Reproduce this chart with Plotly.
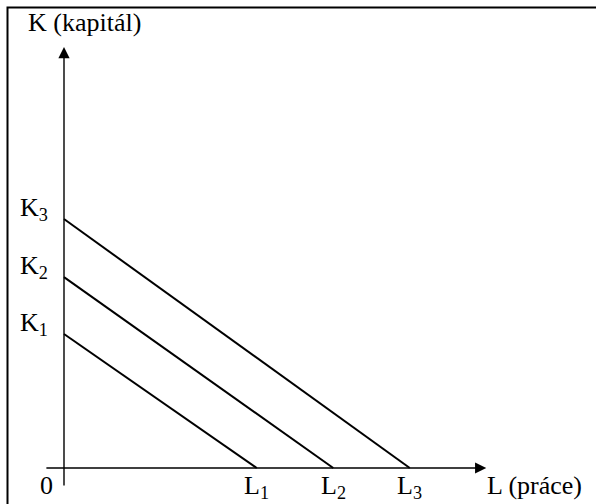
import plotly.graph_objects as go

# Data (economic units)
k_intercepts = [2.33, 3.32, 4.33]     # K1, K2, K3
l_intercepts = [2.52, 3.52, 4.52]     # L1, L2, L3
k_labels = ["K<sub>1</sub>", "K<sub>2</sub>", "K<sub>3</sub>"]
l_labels = ["L<sub>1</sub>", "L<sub>2</sub>", "L<sub>3</sub>"]
y_title = "K (kapitál)"
x_title = "L (práce)"

W, H = 596, 504
ox, oy = 64, 468          # origin pixel
ux, uy = 76.5, 57.5       # px per unit
xr = [-ox / ux, (W - ox) / ux]
yr = [-(H - oy) / uy, oy / uy]

FONT = dict(family="Liberation Serif", size=26, color="black")

fig = go.Figure()
for k, l in zip(k_intercepts, l_intercepts):
    fig.add_trace(go.Scatter(x=[0, l], y=[k, 0], mode="lines",
                             line=dict(color="black", width=2), showlegend=False,
                             hoverinfo="skip"))

ann = []
# axes with arrows
ann.append(dict(x=5.52, y=0, ax=-0.25, ay=0, xref="x", yref="y", axref="x", ayref="y",
                showarrow=True, arrowhead=2, arrowsize=1.6, arrowwidth=1.4, arrowcolor="black", text=""))
ann.append(dict(x=0, y=7.32, ax=0, ay=-0.33, xref="x", yref="y", axref="x", ayref="y",
                showarrow=True, arrowhead=2, arrowsize=1.6, arrowwidth=1.4, arrowcolor="black", text=""))

for k, lab in zip(k_intercepts, k_labels):
    ann.append(dict(x=-0.18, y=k + 0.17, xref="x", yref="y", text=lab, showarrow=False,
                    xanchor="right", yanchor="middle", font=FONT))
for l, lab in zip(l_intercepts, l_labels):
    ann.append(dict(x=l, y=-0.01, xref="x", yref="y", text=lab, showarrow=False,
                    xanchor="center", yanchor="top", font=FONT))
ann.append(dict(x=-0.23, y=-0.01, xref="x", yref="y", text="0", showarrow=False,
                xanchor="center", yanchor="top", font=FONT))
ann.append(dict(x=5.5, y=-0.01, xref="x", yref="y", text=x_title, showarrow=False,
                xanchor="left", yanchor="top", font=FONT))
ann.append(dict(x=-0.5, y=7.74, xref="x", yref="y", text=y_title, showarrow=False,
                xanchor="left", yanchor="middle", font=FONT))

fig.update_layout(
    width=W, height=H,
    margin=dict(l=0, r=0, t=0, b=0),
    paper_bgcolor="white", plot_bgcolor="white",
    font=dict(family="Liberation Serif", size=26, color="black"),
    xaxis=dict(range=xr, visible=False, fixedrange=True),
    yaxis=dict(range=yr, visible=False, fixedrange=True),
    annotations=ann,
    shapes=[dict(type="rect", xref="paper", yref="paper",
                 x0=7.5 / W, y0=-0.05, x1=1.05, y1=1 - 7.5 / H,
                 line=dict(color="black", width=2))],
    showlegend=False,
)

fig.write_html("out.html", config={"displayModeBar": False},
               post_script="document.body.style.margin='0';")
